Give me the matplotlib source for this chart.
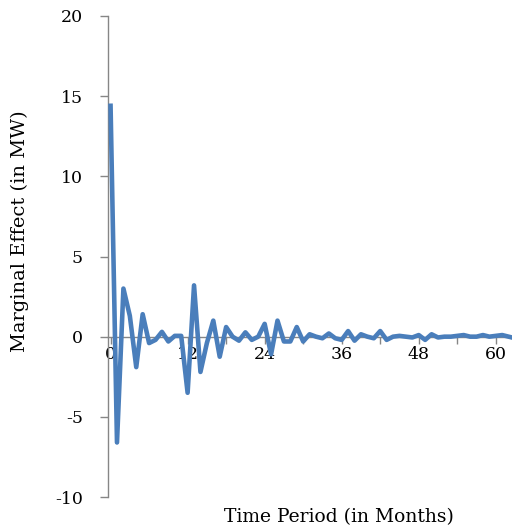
import numpy as np
import matplotlib
matplotlib.use("Agg")
from matplotlib import pyplot as plt
from matplotlib.ticker import MultipleLocator, FuncFormatter

plt.rcParams['font.family'] = ['DejaVu Serif']
plt.rcParams['axes.unicode_minus'] = False

# Marginal effect per month after the shock
months = np.arange(0, 64)
effect = [14.4, -6.6, 3.0, 1.3, -1.9, 1.4, -0.4, -0.2, 0.3, -0.3,
          0.05, 0.05, -3.5, 3.2, -2.2, -0.4, 1.0, -1.25, 0.6, 0.0,
          -0.25, 0.27, -0.2, 0.0, 0.8, -1.1, 1.0, -0.3, -0.3, 0.6,
          -0.3, 0.15, 0.0, -0.1, 0.2, -0.1, -0.2, 0.35, -0.25, 0.15,
          0.0, -0.1, 0.35, -0.2, 0.0, 0.05, 0.0, -0.05, 0.1, -0.2,
          0.15, -0.05, 0.0, 0.0, 0.05, 0.1, 0.0, 0.0, 0.1, 0.0,
          0.05, 0.1, 0.0, -0.1]

line_color = '#4A7EBB'
axis_color = '#868686'

fig = plt.figure(figsize=(5.12, 5.32), dpi=100)
ax = fig.add_axes([108/512, 1 - 497/532, 0.79, (497 - 16)/532])

# line goes over the tick labels
ax.plot(months, effect, color=line_color, linewidth=3.3, zorder=3)

ax.set_xlim(-0.4, 62.6)
ax.set_ylim(-10, 20)

# y axis on the left, x axis drawn through zero
for side in ['top', 'right']:
    ax.spines[side].set_visible(False)
ax.spines['left'].set_color(axis_color)
ax.spines['bottom'].set_color(axis_color)
ax.spines['bottom'].set_position(('data', 0))
ax.spines['left'].set_linewidth(1.0)
ax.spines['bottom'].set_linewidth(1.0)

ax.yaxis.set_major_locator(MultipleLocator(5))
ax.xaxis.set_major_locator(MultipleLocator(6))
ax.xaxis.set_major_formatter(FuncFormatter(lambda v, p: '%d' % v if v % 12 == 0 else ''))

ax.tick_params(axis='y', direction='out', length=6, width=1, color=axis_color,
               pad=12, labelsize=12.5, labelcolor='black')
ax.tick_params(axis='x', direction='out', length=5, width=1, color=axis_color,
               pad=2, labelsize=12.5, labelcolor='black')

fig.text(20/512, 1 - 231/532, 'Marginal Effect (in MW)', rotation=90,
         ha='center', va='center', fontsize=14)
fig.text(339/512, 1 - 517/532, 'Time Period (in Months)',
         ha='center', va='center', fontsize=13.5)

fig.savefig('out.png', dpi=100)
